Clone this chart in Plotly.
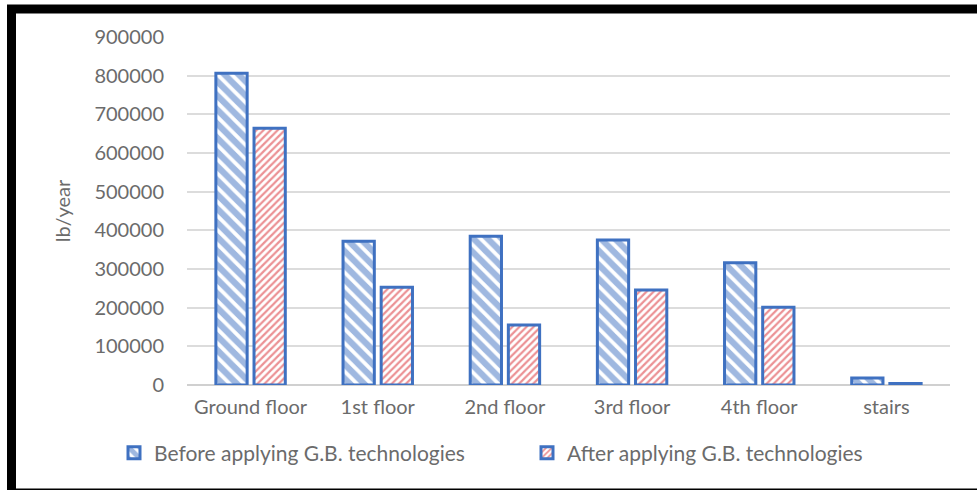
import plotly.graph_objects as go

# Annual amounts per floor (lb/year)
floors = ["Ground floor", "1st floor", "2nd floor", "3rd floor", "4th floor", "stairs"]
before_gb = [806000, 372000, 385000, 375000, 316000, 18000]
after_gb = [664000, 253000, 155000, 246000, 201000, 4000]
y_ticks = [0, 100000, 200000, 300000, 400000, 500000, 600000, 700000, 800000, 900000]

W, H = 977, 490
L, R, T, B = 187, 27, 37, 105
FONT = "Lato, 'Open Sans', sans-serif"
GREY = "#6B6B6B"
BLUE = "#3F71C1"

fig = go.Figure()
fig.add_trace(go.Bar(
    x=floors, y=before_gb, name="Before applying G.B. technologies",
    marker=dict(color="white", line=dict(color=BLUE, width=3),
                pattern=dict(shape="\\", fgcolor=BLUE, bgcolor="white",
                             size=10, solidity=0.62, fillmode="overlay")),
))
fig.add_trace(go.Bar(
    x=floors, y=after_gb, name="After applying G.B. technologies",
    marker=dict(color="white", line=dict(color=BLUE, width=3),
                pattern=dict(shape="/", fgcolor="#D8232A", bgcolor="white",
                             size=5, solidity=0.45, fillmode="overlay")),
))

# frame around the whole figure, in paper units relative to the plot area
pw, ph = W - L - R, H - T - B
def px_x(v):
    return (v - L) / pw
def px_y(v):
    return (H - B - v) / ph

fig.add_shape(type="rect", xref="paper", yref="paper",
              x0=px_x(11.5), x1=px_x(988), y0=px_y(9), y1=px_y(493),
              line=dict(color="black", width=9), fillcolor="rgba(0,0,0,0)")

fig.update_layout(
    width=W, height=H,
    margin=dict(l=L, r=R, t=T, b=B),
    paper_bgcolor="white", plot_bgcolor="white",
    barmode="group", bargap=0.4, bargroupgap=0.18,
    font=dict(family=FONT, color=GREY, size=20),
    showlegend=True,
    legend=dict(orientation="h", x=px_x(114), xanchor="left",
                y=px_y(453), yanchor="middle",
                font=dict(size=21, color=GREY),
                entrywidth=368, entrywidthmode="pixels",
                bgcolor="rgba(0,0,0,0)"),
    xaxis=dict(showgrid=False, showline=False, ticks="",
               ticklabelstandoff=8,
               tickfont=dict(size=20, color=GREY)),
    yaxis=dict(range=[0, 900000], tickvals=y_ticks,
               ticktext=[str(v) for v in y_ticks],
               showgrid=True, gridcolor="#DCDCDC", gridwidth=1.5,
               zeroline=True, zerolinecolor="#D0D0D0", zerolinewidth=1.5,
               showline=False, ticks="", ticklabelstandoff=22,
               tickfont=dict(size=20, color=GREY),
               title=dict(text="lb/year", font=dict(size=20, color=GREY),
                          standoff=18)),
)

fig.write_html("out.html")
